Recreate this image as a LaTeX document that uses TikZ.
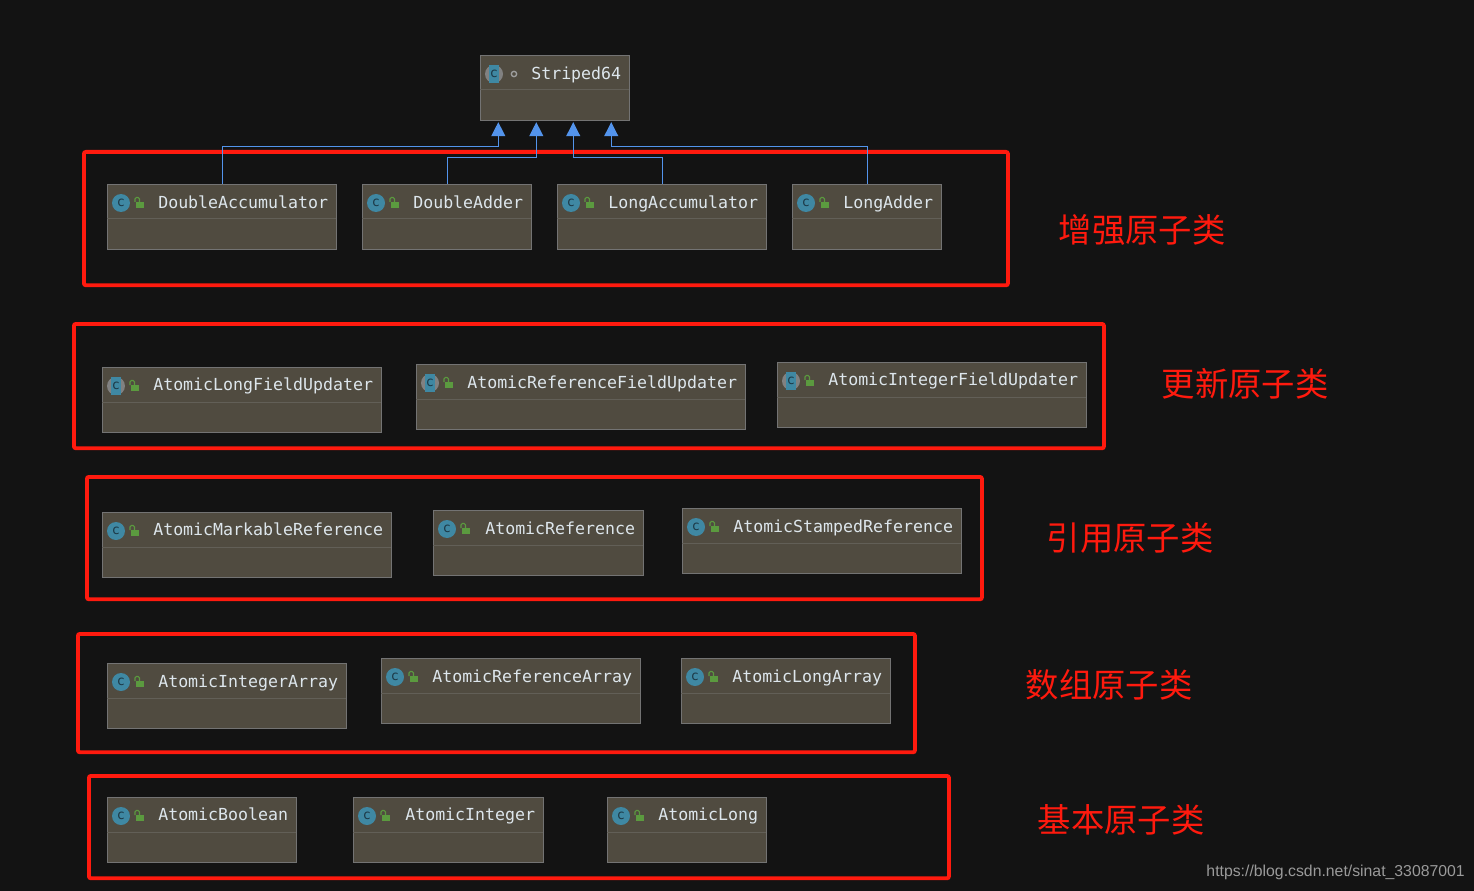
\documentclass[tikz,border=0pt]{standalone}
\usepackage{fontspec}
\setmonofont{DejaVu Sans Mono}
\newfontfamily\cjk{Noto Sans CJK SC}
\newfontfamily\urlfont{Liberation Sans}
\usetikzlibrary{arrows.meta, positioning, calc}
\definecolor{bgDark}{HTML}{131313}
\definecolor{boxFill}{HTML}{504B40}
\definecolor{boxLine}{HTML}{737373}
\definecolor{boxRule}{HTML}{625F57}
\definecolor{boxText}{HTML}{DDE6EC}
\definecolor{iconBlue}{HTML}{3F88A3}
\definecolor{iconDark}{HTML}{1D3A48}
\definecolor{lockGreen}{HTML}{5B9A3F}
\definecolor{arrowBlue}{HTML}{5394EC}
\definecolor{groupRed}{HTML}{FF1A0E}
\definecolor{urlGrey}{HTML}{9A9A9A}

\begin{document}
\begin{tikzpicture}[
  x=0.75pt, y=-0.75pt,
  umlBox/.style={
    draw=boxLine, fill=boxFill, line width=1.1pt, rectangle,
    anchor=north west, inner sep=0pt
  },
  umlRule/.style={draw=boxRule, line width=0.75pt},
  umlName/.style={
    font=\ttfamily\fontsize{12.45}{14}\selectfont, text=boxText,
    anchor=base west, inner sep=0pt
  },
  iconClass/.style={
    circle, fill=iconBlue, minimum size=13.5pt, inner sep=0pt,
    font=\ttfamily\fontsize{10}{10}\selectfont, text=iconDark
  },
  iconAbstract/.style={
    circle, fill=boxLine!90!white, minimum size=13.5pt, inner sep=0pt
  },
  iconCore/.style={
    rectangle, fill=iconBlue, minimum width=8pt, minimum height=13pt, inner sep=0pt,
    font=\ttfamily\fontsize{10}{10}\selectfont, text=iconDark
  },
  iconLock/.style={rectangle, fill=lockGreen, minimum width=5.8pt, minimum height=4.8pt, inner sep=0pt},
  lockBow/.style={draw=lockGreen, line width=0.8pt, rounded corners=1pt},
  iconDot/.style={circle, draw=boxLine!70!white, line width=1pt, minimum size=4pt, inner sep=0pt},
  extends/.style={
    draw=arrowBlue, line width=0.75pt,
    -{Triangle[fill=arrowBlue, length=10.5pt, width=10.5pt]}
  },
  groupBox/.style={
    draw=groupRed, line width=2.9pt, rounded corners=1.5pt, rectangle,
    anchor=north west, inner sep=0pt
  },
  groupName/.style={font=\cjk\fontsize{25}{28}\selectfont, text=groupRed, inner sep=0pt},
  urlMark/.style={font=\urlfont\fontsize{11.85}{14}\selectfont, text=urlGrey, inner sep=0pt, anchor=east}
]

\fill[bgDark] (0,0) rectangle (1474,891);
\useasboundingbox (0,0) rectangle (1474,891);

\node[groupBox, minimum width=693pt, minimum height=100pt] (groupEnhanced) at (82,150) {};
\node[groupBox, minimum width=772.5pt, minimum height=93.25pt] (groupUpdater) at (72,322) {};
\node[groupBox, minimum width=671.25pt, minimum height=91.75pt] (groupReference) at (85,475) {};
\node[groupBox, minimum width=627.75pt, minimum height=88.75pt] (groupArray) at (76,632) {};
\node[groupBox, minimum width=645pt, minimum height=76.75pt] (groupBasic) at (87,774) {};

\node[groupName] (nameEnhanced) at (1142,230) {增强原子类};
\node[groupName] (nameUpdater) at (1245,384) {更新原子类};
\node[groupName] (nameReference) at (1130,538) {引用原子类};
\node[groupName] (nameArray) at (1109,684.5) {数组原子类};
\node[groupName] (nameBasic) at (1121,820) {基本原子类};

\foreach \bname/\bx/\by/\bw/\tx/\ty/\btext in {
  striped/480/55/149/51/25/Striped64,
  doubleAcc/107/184/229/51/25/DoubleAccumulator,
  doubleAdd/362/184/169/51/25/DoubleAdder,
  longAcc/557/184/209/51/25/LongAccumulator,
  longAdd/792/184/149/51/25/LongAdder,
  longField/102/367/279/51/23/AtomicLongFieldUpdater,
  refField/416/364/329/51/24/AtomicReferenceFieldUpdater,
  intField/777/362/309/51/23/AtomicIntegerFieldUpdater,
  markable/102/512/289/51/23/AtomicMarkableReference,
  reference/433/510/210/52/24/AtomicReference,
  stamped/682/508/279/51/24/AtomicStampedReference,
  intArray/107/663/239/51/24/AtomicIntegerArray,
  refArray/381/658/259/51/24/AtomicReferenceArray,
  longArray/681/658/209/51/24/AtomicLongArray,
  boolean/107/797/189/51/23/AtomicBoolean,
  integer/353/797/190/52/23/AtomicInteger,
  long/607/797/159/51/23/AtomicLong} {
  \node[umlBox, minimum width={\bw*0.75pt}, minimum height=48.5pt] (\bname) at (\bx,\by) {};
  \draw[umlRule] (\bx,\by+35) -- (\bx+\bw,\by+35);
  \node[umlName] (\bname Text) at (\bx+\tx,\by+\ty) {\btext};
}

\foreach \bname/\bx/\by in {
  doubleAcc/107/184, doubleAdd/362/184, longAcc/557/184, longAdd/792/184,
  markable/102/512, reference/433/510, stamped/682/508,
  intArray/107/663, refArray/381/658, longArray/681/658,
  boolean/107/797, integer/353/797, long/607/797} {
  \node[iconClass] (\bname Icon) at (\bx+14,\by+19) {c};
}

\foreach \bname/\bx/\by in {
  striped/480/55, longField/102/367, refField/416/364, intField/777/362} {
  \node[iconAbstract] (\bname Ring) at (\bx+14,\by+19) {};
  \node[iconCore] (\bname Icon) at (\bx+14,\by+19) {c};
}

\foreach \bname/\bx/\by in {
  doubleAcc/107/184, doubleAdd/362/184, longAcc/557/184, longAdd/792/184,
  longField/102/367, refField/416/364, intField/777/362,
  markable/102/512, reference/433/510, stamped/682/508,
  intArray/107/663, refArray/381/658, longArray/681/658,
  boolean/107/797, integer/353/797, long/607/797} {
  \node[iconLock] (\bname Lock) at (\bx+33,\by+21) {};
  \draw[lockBow] (\bx+28,\by+18) -- (\bx+28,\by+13.5) -- (\bx+32.5,\by+13.5) -- (\bx+32.5,\by+18);
}

\node[iconDot] (stripedDot) at (514,74) {};

\draw[extends] (doubleAcc.north) -- ++(0,-37) -| ([xshift=-42.7pt, yshift=-0.8pt]striped.south);
\draw[extends] (doubleAdd.north) -- ++(0,-26) -| ([xshift=-14.2pt, yshift=-0.8pt]striped.south);
\draw[extends] (longAcc.north) -- ++(0,-26) -| ([xshift=13.5pt, yshift=-0.8pt]striped.south);
\draw[extends] (longAdd.north) -- ++(0,-37) -| ([xshift=42pt, yshift=-0.8pt]striped.south);

\node[urlMark] (urlText) at (1465,872.5) {https://blog.csdn.net/sinat\_33087001};
\end{tikzpicture}
\end{document}
